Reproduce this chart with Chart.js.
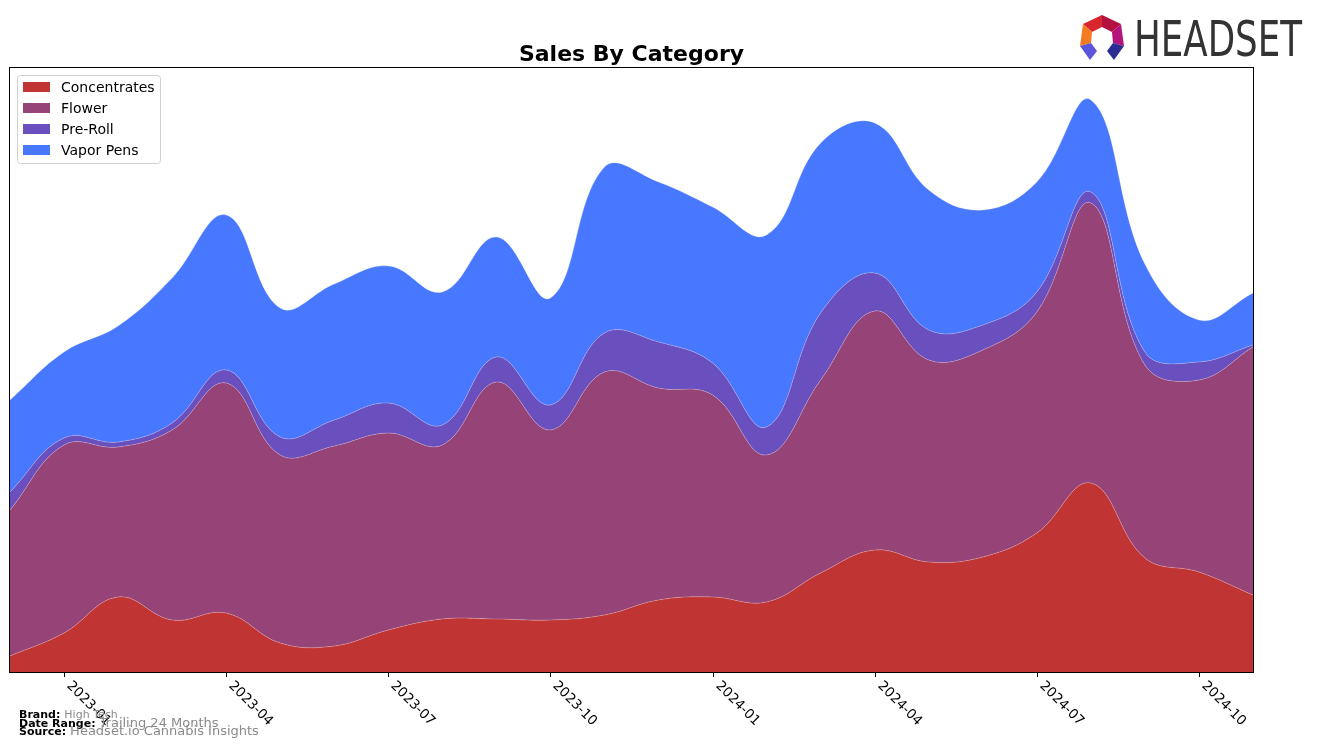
<!DOCTYPE html>
<html>
<head>
<meta charset="utf-8">
<script src="https://cdn.jsdelivr.net/npm/chart.js@4.4.1/dist/chart.umd.min.js"></script>
<style>
  body { margin: 0; background: #fff; }
  #wrap { width: 1317px; height: 749px; }
</style>
</head>
<body>
<div id="wrap"><canvas id="salesChart" width="1317" height="749"></canvas></div>
<script>
// months of the trailing 24 month window
const months = ['2022-12','2023-01','2023-02','2023-03','2023-04','2023-05','2023-06','2023-07',
  '2023-08','2023-09','2023-10','2023-11','2023-12','2024-01','2024-02','2024-03','2024-04',
  '2024-05','2024-06','2024-07','2024-08','2024-09','2024-10','2024-11'];

const concentrates = [16, 39, 75, 52, 59, 29, 26, 42, 53, 53, 52, 57, 72, 75, 70, 99, 122, 110, 115, 139, 189, 114, 100, 77];
const flower       = [146, 188, 150, 190, 230, 188, 200, 197, 174, 237, 190, 243, 212, 202, 147, 193, 239, 202, 207, 221, 280, 193, 192, 248];
const preRoll      = [18, 7, 5, 7, 13, 18, 26, 30, 20, 25, 25, 39, 46, 32, 28, 67, 38, 30, 25, 20, 11, 13, 18, 2];
const vaporPens    = [92, 86, 116, 145, 155, 129, 136, 137, 133, 120, 107, 166, 160, 156, 192, 170, 150, 140, 115, 110, 92, 88, 42, 52];

const tickLabels = ['2023-01','2023-04','2023-07','2023-10','2024-01','2024-04','2024-07','2024-10'];

const colors = {
  'Concentrates': '#c03434',
  'Flower': '#964378',
  'Pre-Roll': '#6a4fbf',
  'Vapor Pens': '#4878ff'
};

function layer(label, data, fill) {
  return {
    label: label,
    data: data,
    backgroundColor: colors[label],
    borderColor: 'rgba(255,255,255,0.3)',
    borderWidth: 0.8,
    pointRadius: 0,
    tension: 0.4,
    fill: fill
  };
}

const FONT = '"DejaVu Sans", "Liberation Sans", sans-serif';

// frame, ticks, title, legend, footer and logo
const decorPlugin = {
  id: 'decor',
  afterDraw(chart) {
    const { ctx, chartArea } = chart;
    const xs = chart.scales.x;
    ctx.save();

    // frame
    ctx.strokeStyle = '#000';
    ctx.lineWidth = 1;
    ctx.strokeRect(chartArea.left - 0.5, chartArea.top - 0.5,
      chartArea.right - chartArea.left + 1, chartArea.bottom - chartArea.top + 1);

    // x ticks + rotated labels
    ctx.fillStyle = '#000';
    ctx.font = '13.5px ' + FONT;
    tickLabels.forEach(t => {
      const x = Math.round(xs.getPixelForValue(months.indexOf(t))) + 0.5;
      ctx.beginPath();
      ctx.moveTo(x, chartArea.bottom);
      ctx.lineTo(x, chartArea.bottom + 5);
      ctx.stroke();
      ctx.save();
      ctx.translate(x + 9, chartArea.bottom + 7);
      ctx.rotate(Math.PI / 4);
      ctx.textAlign = 'left';
      ctx.textBaseline = 'top';
      ctx.fillText(t, 0, 0);
      ctx.restore();
    });

    // title
    ctx.font = 'bold 22px ' + FONT;
    ctx.textAlign = 'center';
    ctx.textBaseline = 'alphabetic';
    ctx.fillText('Sales By Category', (chartArea.left + chartArea.right) / 2, 61);

    // legend
    const lx = 17, ly = 75, lw = 143, lh = 88;
    ctx.fillStyle = 'rgba(255,255,255,0.8)';
    ctx.strokeStyle = '#d0d0d0';
    ctx.beginPath();
    ctx.roundRect(lx + 0.5, ly + 0.5, lw, lh, 3);
    ctx.fill();
    ctx.stroke();
    ctx.font = '14px ' + FONT;
    ctx.textAlign = 'left';
    ctx.textBaseline = 'middle';
    chart.data.datasets.forEach((ds, i) => {
      const cy = 87 + i * 21;
      ctx.fillStyle = ds.backgroundColor;
      ctx.fillRect(23, cy - 5, 27, 10);
      ctx.fillStyle = '#000';
      ctx.fillText(ds.label, 61, cy + 1);
    });

    // footer
    const foot = [
      ['Brand:', 'High Tech', 718, 11],
      ['Date Range:', 'Trailing 24 Months', 727, 13],
      ['Source:', 'Headset.io Cannabis Insights', 735, 13]
    ];
    ctx.textBaseline = 'alphabetic';
    foot.forEach(([k, v, y, s]) => {
      ctx.font = 'bold 11px ' + FONT;
      ctx.fillStyle = '#000';
      ctx.fillText(k, 19, y);
      const w = ctx.measureText(k).width;
      ctx.font = s + 'px ' + FONT;
      ctx.fillStyle = '#8a8a8a';
      ctx.fillText(v, 19 + w + 4, y);
    });

    // logo
    const facets = [
      ['#d8262e', [[1083,24],[1102,15],[1102,27],[1092,32]]],
      ['#b3123f', [[1102,15],[1121,24],[1112,32],[1102,27]]],
      ['#f47b20', [[1083,24],[1092,32],[1091,43],[1080,46]]],
      ['#b5147f', [[1121,24],[1124,46],[1113,43],[1112,32]]],
      ['#5c55dc', [[1080,46],[1091,43],[1097,51],[1090,60]]],
      ['#2b2d93', [[1124,46],[1113,43],[1107,51],[1114,60]]]
    ];
    facets.forEach(([c, pts]) => {
      ctx.fillStyle = c;
      ctx.beginPath();
      pts.forEach((p, i) => i ? ctx.lineTo(p[0], p[1]) : ctx.moveTo(p[0], p[1]));
      ctx.closePath();
      ctx.fill();
    });
    ctx.fillStyle = '#333';
    ctx.font = '50px ' + FONT;
    ctx.textAlign = 'left';
    const tw = ctx.measureText('HEADSET').width;
    ctx.save();
    ctx.translate(1134, 56);
    ctx.scale(168 / tw, 1);
    ctx.fillText('HEADSET', 0, 0);
    ctx.restore();

    ctx.restore();
  }
};

new Chart(document.getElementById('salesChart'), {
  type: 'line',
  data: {
    labels: months,
    datasets: [
      layer('Concentrates', concentrates, 'origin'),
      layer('Flower', flower, '-1'),
      layer('Pre-Roll', preRoll, '-1'),
      layer('Vapor Pens', vaporPens, '-1')
    ]
  },
  options: {
    responsive: false,
    animation: false,
    layout: { padding: { left: 10, right: 64, top: 68, bottom: 77 } },
    plugins: {
      legend: { display: false },
      title: { display: false },
      tooltip: { enabled: false }
    },
    scales: {
      x: { display: false, offset: false },
      y: { display: false, stacked: true, min: 0, max: 604 }
    }
  },
  plugins: [decorPlugin]
});
</script>
</body>
</html>
